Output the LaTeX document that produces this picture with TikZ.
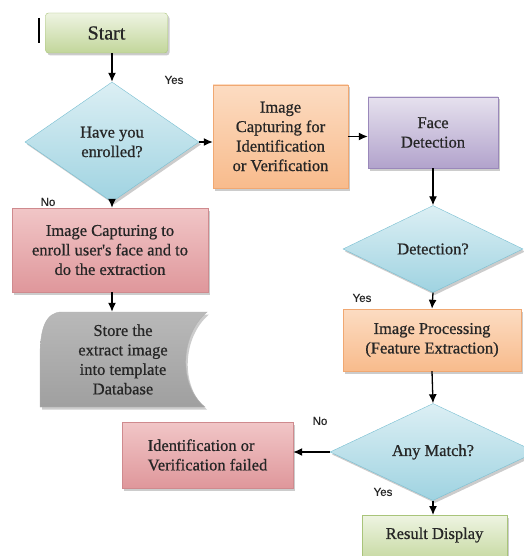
\documentclass[tikz,border=0pt]{standalone}
\usepackage{fontspec}
\setmainfont{Liberation Serif}
\newfontfamily\bodyfont{Liberation Serif}[FakeBold=0.7]
\newfontfamily\lblfont{Liberation Sans}[FakeBold=0.5]
\usetikzlibrary{shapes.geometric,shadows,arrows.meta}
\definecolor{grnT}{HTML}{EEF4E2}
\definecolor{grnB}{HTML}{C2D69A}
\definecolor{grnD}{HTML}{A9C47A}
\definecolor{bluT}{HTML}{DCEFF4}
\definecolor{bluB}{HTML}{9FD3E1}
\definecolor{bluD}{HTML}{78BFD2}
\definecolor{orgT}{HTML}{FCDCC2}
\definecolor{orgB}{HTML}{F8BB8C}
\definecolor{orgD}{HTML}{F0A872}
\definecolor{purT}{HTML}{E6E1EE}
\definecolor{purB}{HTML}{B2A3CC}
\definecolor{purD}{HTML}{9A88BA}
\definecolor{redT}{HTML}{F1C6C7}
\definecolor{redB}{HTML}{DF979B}
\definecolor{redD}{HTML}{CF8A8E}
\definecolor{txt}{HTML}{262626}
\begin{document}
\begin{tikzpicture}[x=1pt,y=-1pt,
  body/.style={font=\bodyfont\fontsize{16.5}{19.5}\selectfont, text=txt, align=center, inner sep=0pt},
  shade/.style={drop shadow={opacity=0.4,shadow xshift=2pt,shadow yshift=-2.5pt}},
  greenbox/.style={body, shade, rectangle, draw=grnD, top color=grnT, bottom color=grnB},
  orangebox/.style={body, shade, rectangle, draw=orgD, top color=orgT, bottom color=orgB},
  purplebox/.style={body, shade, rectangle, draw=purD, top color=purT, bottom color=purB},
  redbox/.style={body, shade, rectangle, draw=redD, top color=redT, bottom color=redB},
  decision/.style={body, shade, diamond, draw=bluD, top color=bluT, bottom color=bluB},
  lbl/.style={font=\lblfont\fontsize{11.5}{13}\selectfont, text=txt, inner sep=0pt},
  arr/.style={line width=1.3pt, -{Latex[length=9pt,width=8pt]}}
]
\useasboundingbox (0,0) rectangle (523,556);
\fill[white] (0,0) rectangle (523,556);

% cursor bar
\draw[line width=2pt] (39,18) -- (39,43);

\node[greenbox, rounded corners=3pt, minimum width=122pt, minimum height=40pt,
      font=\bodyfont\fontsize{20}{24}\selectfont] (start) at (106.5,33) {Start};
\node[decision, minimum width=174pt, minimum height=120pt] (d1) at (112,142) {Have you\\enrolled?};
\node[orangebox, minimum width=135pt, minimum height=103pt] (cap) at (280.5,136.5)
  {Image\\Capturing for\\Identification\\or Verification};
\node[purplebox, minimum width=130pt, minimum height=71pt] (face) at (433,132.5) {Face\\Detection};
\node[decision, minimum width=180pt, minimum height=87pt] (d2) at (433,249) {Detection?};
\node[orangebox, minimum width=178pt, minimum height=62pt] (proc) at (432,340)
  {Image Processing\\(Feature Extraction)};
\node[decision, minimum width=206pt, minimum height=68pt] (d3) at (433,452) {Any Match?};
\node[redbox, minimum width=171pt, minimum height=66pt, align=left] (fail) at (207.5,455)
  {Identification or\\Verification failed};
\node[greenbox, minimum width=145pt, minimum height=50pt, anchor=north] (res) at (434.5,515) {};
\node[body] at (434.5,535) {Result Display};
\node[redbox, minimum width=196pt, minimum height=84pt] (enr) at (110,250)
  {Image Capturing to\\enroll user's face and to\\do the extraction};

% stored data shape
\path[shade, draw=gray!60, top color=gray!55, middle color=gray!15, bottom color=gray!75]
  (62,312) -- (207,312) .. controls (180,335) and (178,385) .. (205,407)
  -- (40,407) -- (40,357) .. controls (40,330) and (45,312) .. (62,312) -- cycle;
\node[body, minimum width=165pt, minimum height=95pt] (store) at (123,359.5)
  {Store the\\extract image\\into template\\Database};

% connectors
\draw[arr] (d1.north |- start.south) -- (d1.north);
\draw[arr] (d1.east) -- (d1.east -| cap.west);
\draw[arr] (cap.east) -- (cap.east -| face.west);
\draw[arr] (face.south) -- (d2.north);
\draw[arr] (d2.south) -- (proc.north);
\draw[arr] (proc.south) -- (d3.north);
\draw[arr] (d3.west) -- (d3.west -| fail.east);
\draw[arr] (d3.south) -- (d3.south |- res.north);
\draw[arr] (d1.south) -- (d1.south |- enr.north);
\draw[arr] (d1.south |- enr.south) -- (d1.south |- store.north);

% labels
\node[lbl] at (174,80) {Yes};
\node[lbl] at (48,202) {No};
\node[lbl] at (362,298) {Yes};
\node[lbl] at (320,421) {No};
\node[lbl] at (383,492) {Yes};
\end{tikzpicture}
\end{document}
